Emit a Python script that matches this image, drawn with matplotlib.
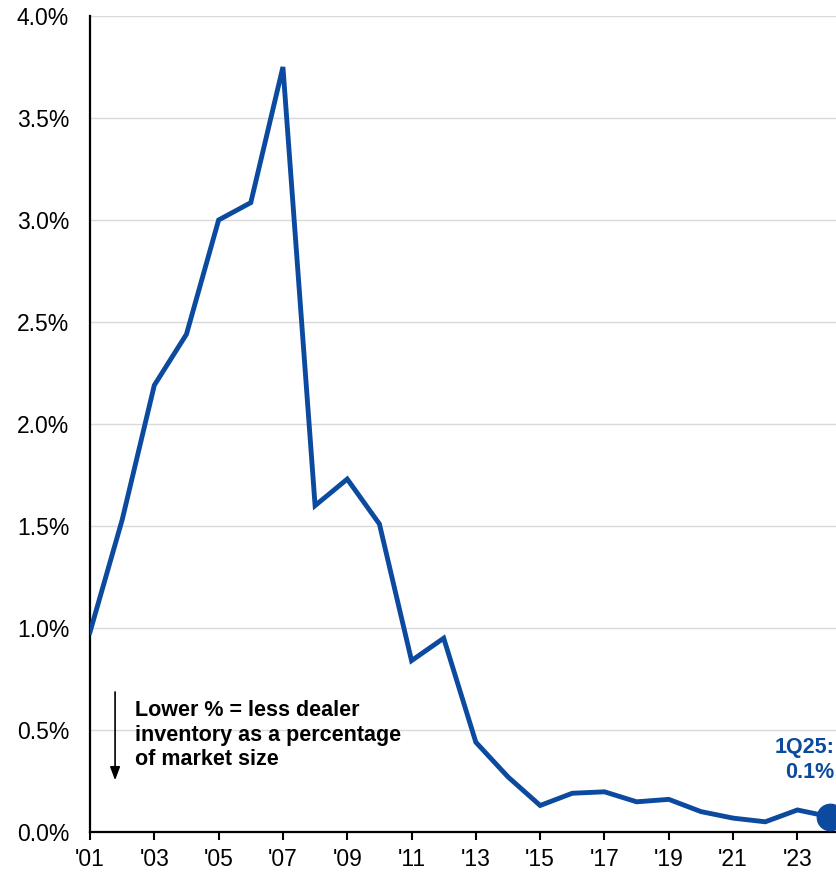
import matplotlib
matplotlib.use("Agg")
import matplotlib.pyplot as plt

years = list(range(2001, 2025))
values = [0.98, 1.53, 2.19, 2.44, 3.00, 3.085, 3.75, 1.60, 1.73, 1.51, 0.84, 0.95,
          0.44, 0.27, 0.13, 0.19, 0.197, 0.148, 0.16, 0.10, 0.068, 0.05, 0.108, 0.075]
tick_years = list(range(2001, 2024, 2))
tick_labels = ["'%02d" % (y % 100) for y in tick_years]
y_ticks = [0.0, 0.5, 1.0, 1.5, 2.0, 2.5, 3.0, 3.5, 4.0]

blue = '#0B4A9E'
plt.rcParams['font.family'] = ['Liberation Sans', 'DejaVu Sans']

fig = plt.figure(figsize=(8.36, 8.77), dpi=100)
ax = fig.add_axes([90/836, 45/877, 746/836, 816/877])

ax.plot(years, values, color=blue, lw=3.5, solid_joinstyle='miter', zorder=3)
ax.plot(years[-1], values[-1], 'o', color=blue, markersize=19, clip_on=False, zorder=4)

ax.set_xlim(2001, 2024.2)
ax.set_ylim(0, 4.0)
ax.set_yticks(y_ticks)
ax.set_yticklabels(['%.1f%%' % v for v in y_ticks])
ax.set_xticks(tick_years)
ax.set_xticklabels(tick_labels)

ax.grid(axis='y', color='#d9d9d9', lw=1.0)
ax.set_axisbelow(True)
for s in ['top', 'right']:
    ax.spines[s].set_visible(False)
ax.spines['left'].set_linewidth(1.6)
ax.spines['bottom'].set_linewidth(1.6)
ax.tick_params(axis='y', length=0, labelsize=16.5, pad=15)
ax.tick_params(axis='x', direction='out', length=5.5, width=1.5, labelsize=16.5, pad=6)

ax.annotate('', xy=(2001.78, 0.24), xytext=(2001.78, 0.70),
            arrowprops=dict(arrowstyle='-|>,head_length=0.8,head_width=0.3', color='black', lw=1.2))
ax.text(2002.4, 0.645, 'Lower % = less dealer\ninventory as a percentage\nof market size',
        fontsize=15.5, fontweight='bold', va='top', ha='left', linespacing=1.22)
ax.text(2024.15, 0.24, '1Q25:\n0.1%', fontsize=15.5, fontweight='bold', color=blue,
        ha='right', va='bottom', linespacing=1.25)

fig.savefig('out.png', dpi=100)
